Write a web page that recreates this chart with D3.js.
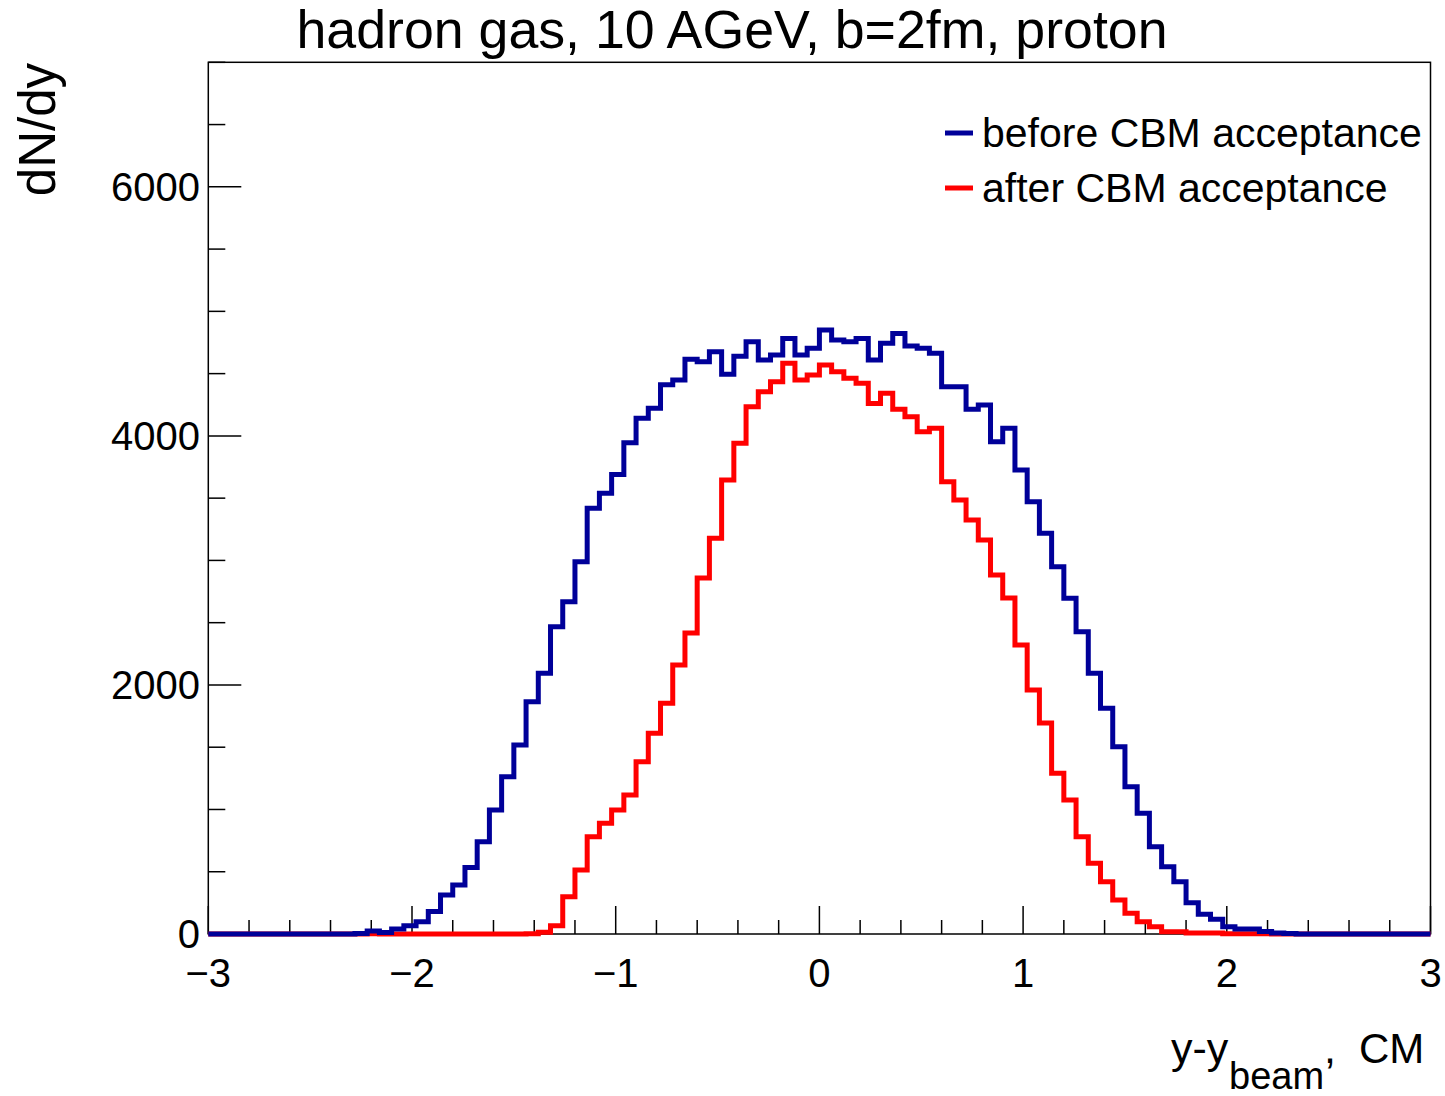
<!DOCTYPE html>
<html>
<head>
<meta charset="utf-8">
<script src="https://cdn.jsdelivr.net/npm/d3@7"></script>
<style>
  body { margin: 0; background: #fff; }
  text { font-family: 'Liberation Sans', Arial, sans-serif; fill: #000; }
</style>
</head>
<body>
<div id="chart"></div>
<script>
// histogram: 100 bins from -3 to 3
const xMin = -3;
const xMax = 3;
const nBins = 100;

const beforeAcc = [
  0, 0, 0, 0, 0, 0, 0, 0, 0, 0,
  0, 0, 5, 25, 12, 40, 67, 99, 180, 313,
  393, 535, 741, 996, 1263, 1518, 1866, 2093, 2468, 2668,
  2990, 3418, 3539, 3690, 3945, 4141, 4221, 4410, 4449, 4615,
  4596, 4676, 4495, 4640, 4756, 4609, 4649, 4783, 4649, 4703,
  4850, 4770, 4756, 4783, 4609, 4743, 4823, 4721, 4703, 4663,
  4395, 4395, 4213, 4248, 3953, 4061, 3726, 3471, 3218, 2950,
  2696, 2427, 2093, 1812, 1504, 1183, 969, 701, 540, 420,
  251, 158, 118, 59, 40, 40, 20, 8, 5, 0,
  0, 0, 0, 0, 0, 0, 0, 0, 0, 0
];

const afterAcc = [
  0, 0, 0, 0, 0, 0, 0, 0, 0, 0,
  0, 0, 0, 3, 0, 0, 0, 0, 0, 0,
  0, 0, 0, 0, 0, 0, 3, 15, 67, 300,
  514, 781, 889, 996, 1116, 1384, 1612, 1853, 2160, 2417,
  2859, 3177, 3646, 3940, 4234, 4355, 4435, 4583, 4449, 4489,
  4569, 4515, 4462, 4422, 4261, 4342, 4214, 4154, 4034, 4061,
  3632, 3485, 3324, 3164, 2883, 2698, 2321, 1959, 1694, 1290,
  1076, 781, 568, 420, 273, 166, 99, 59, 19, 19,
  8, 8, 8, 3, 3, 3, 3, 0, 0, 0,
  0, 0, 0, 0, 0, 0, 0, 0, 0, 0
];

const xTicks = [-3, -2, -1, 0, 1, 2, 3];
const xTickLabels = ['\u22123', '\u22122', '\u22121', '0', '1', '2', '3'];
const yTicks = [0, 2000, 4000, 6000];
const yTickLabels = ['0', '2000', '4000', '6000'];

const legendLabels = ['before CBM acceptance', 'after CBM acceptance'];
const colors = ['#000099', '#ff0000'];

const W = 1445, H = 1096;
const frame = { left: 208.3, right: 1430.5, top: 62.3, bottom: 934 };

const svg = d3.select('#chart')
  .append('svg')
  .attr('width', W)
  .attr('height', H)
  .style('background-color', '#fff');

const x = d3.scaleLinear().domain([xMin, xMax]).range([frame.left, frame.right]);
const y = d3.scaleLinear().domain([0, 7000]).range([frame.bottom, frame.top]);

// title
svg.append('text')
  .attr('x', 732)
  .attr('y', 48)
  .attr('text-anchor', 'middle')
  .style('font-size', '53.7px')
  .text('hadron gas, 10 AGeV, b=2fm, proton');

// frame
svg.append('rect')
  .attr('x', frame.left)
  .attr('y', frame.top)
  .attr('width', frame.right - frame.left)
  .attr('height', frame.bottom - frame.top)
  .attr('fill', 'none')
  .attr('stroke', '#000')
  .attr('stroke-width', 1.5);

// y ticks (major 2000, minor 500)
const yMinor = d3.range(0, 7001, 500);
svg.append('g').selectAll('line')
  .data(yMinor)
  .enter()
  .append('line')
  .attr('x1', frame.left)
  .attr('x2', (d) => frame.left + (d % 2000 === 0 ? 33 : 17))
  .attr('y1', (d) => y(d))
  .attr('y2', (d) => y(d))
  .attr('stroke', '#000')
  .attr('stroke-width', 1.5);

svg.append('g').selectAll('text')
  .data(yTicks)
  .enter()
  .append('text')
  .attr('x', 200)
  .attr('y', (d) => y(d))
  .attr('dy', '0.36em')
  .attr('text-anchor', 'end')
  .style('font-size', '40px')
  .text((d, i) => yTickLabels[i]);

// x ticks (major 1, minor 0.2)
const xMinor = d3.range(-15, 16).map((k) => k / 5);
svg.append('g').selectAll('line')
  .data(xMinor)
  .enter()
  .append('line')
  .attr('x1', (d) => x(d))
  .attr('x2', (d) => x(d))
  .attr('y1', frame.bottom)
  .attr('y2', (d) => frame.bottom - (Math.abs(d - Math.round(d)) < 1e-6 ? 28 : 14))
  .attr('stroke', '#000')
  .attr('stroke-width', 1.5);

svg.append('g').selectAll('text')
  .data(xTicks)
  .enter()
  .append('text')
  .attr('x', (d) => x(d))
  .attr('y', 987)
  .attr('text-anchor', 'middle')
  .style('font-size', '40px')
  .text((d, i) => xTickLabels[i]);

// axis titles
svg.append('text')
  .attr('transform', 'translate(55, 63) rotate(-90)')
  .attr('text-anchor', 'end')
  .style('font-size', '51px')
  .text('dN/dy');

const xt = svg.append('text')
  .style('font-size', '43px');
xt.append('tspan').attr('x', 1171).attr('y', 1063).text('y-y');
xt.append('tspan').attr('x', 1229).attr('y', 1089).style('font-size', '38px').text('beam');
xt.append('tspan').attr('x', 1324).attr('y', 1063).text(',');
xt.append('tspan').attr('x', 1359).attr('y', 1063).style('font-size', '42px').text('CM');

// histograms
const binW = (xMax - xMin) / nBins;
const toSteps = (vals) => {
  const pts = vals.map((v, i) => [xMin + i * binW, v]);
  pts.push([xMax, vals[vals.length - 1]]);
  return pts;
};

const line = d3.line()
  .x((d) => x(d[0]))
  .y((d) => y(d[1]))
  .curve(d3.curveStepAfter);

[[afterAcc, colors[1]], [beforeAcc, colors[0]]].forEach(([vals, c]) => {
  svg.append('path')
    .datum(toSteps(vals))
    .attr('d', line)
    .attr('fill', 'none')
    .attr('stroke', c)
    .attr('stroke-width', 5)
    .attr('stroke-linejoin', 'miter');
});

// legend
const legend = svg.append('g');
legendLabels.forEach((lab, i) => {
  const ly = 133 + i * 55;
  legend.append('line')
    .attr('x1', 945)
    .attr('x2', 973)
    .attr('y1', ly)
    .attr('y2', ly)
    .attr('stroke', colors[i])
    .attr('stroke-width', 5);
  legend.append('text')
    .attr('x', 982)
    .attr('y', ly + 14)
    .style('font-size', '41px')
    .text(lab);
});
</script>
</body>
</html>
